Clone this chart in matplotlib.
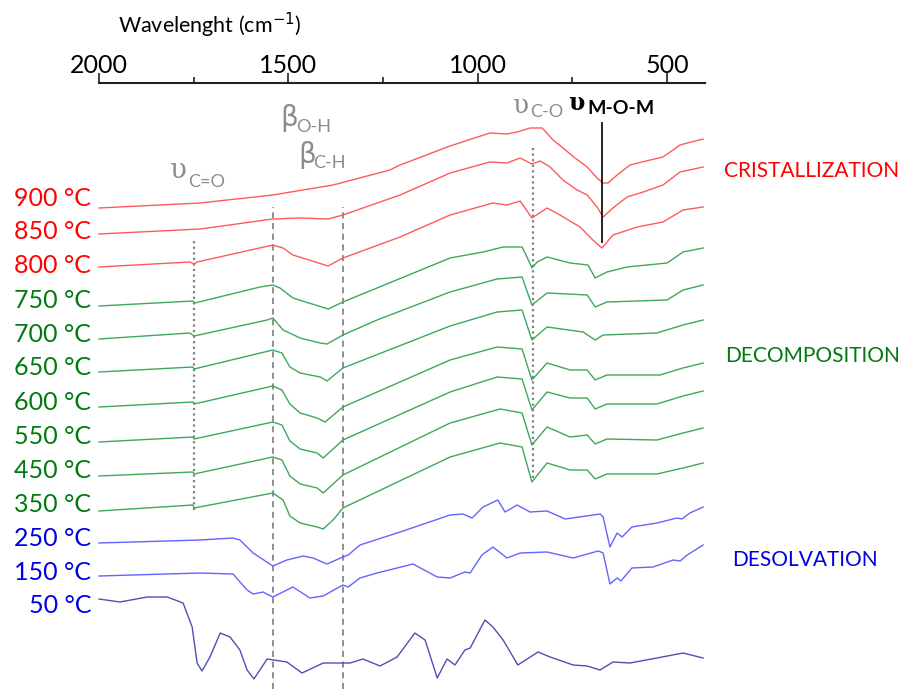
import matplotlib.pyplot as plt

# --- style ---
plt.rcParams['font.family'] = ['Lato', 'DejaVu Sans']

RED_LINE, RED_TXT = "#FF5A5A", "#FF0000"
GREEN_LINE, GREEN_TXT = "#3FA85A", "#007A10"
BLUE_LINE, BLUE_TXT = "#6464FF", "#0000E6"
BLUE_DARK = "#5050B4"
GRAY = "#8C8C8C"

# Spectra: (wavenumber cm-1, stacked transmittance a.u.)
s900 = [(2000, 481), (1733, 486), (1541, 494), (1382, 504), (1232, 519), (1205, 524),
        (1073, 543), (968, 556), (923, 555), (896, 557), (862, 561), (830, 561),
        (801, 549), (775, 541), (743, 531), (711, 522), (685, 511), (669, 506),
        (656, 506), (632, 514), (598, 524), (545, 529), (511, 532), (492, 537),
        (466, 544), (447, 546), (405, 550)]
s850 = [(2000, 455), (1733, 460), (1541, 470), (1470, 471), (1395, 470), (1356, 474),
        (1205, 494), (1073, 516), (968, 527), (923, 526), (888, 531), (857, 525),
        (835, 528), (809, 522), (775, 509), (738, 499), (711, 494), (685, 482),
        (669, 472), (643, 481), (606, 492), (563, 497), (511, 504), (466, 517), (405, 522)]
s800 = [(2000, 422), (1760, 427), (1749, 425), (1741, 427), (1541, 444), (1514, 441),
        (1488, 434), (1395, 423), (1356, 431), (1205, 452), (1073, 474), (960, 486),
        (923, 484), (888, 488), (857, 471), (817, 481), (783, 474), (730, 462),
        (696, 449), (672, 441), (643, 454), (579, 462), (511, 467), (458, 479), (405, 482)]
s750 = [(2000, 383), (1752, 388), (1747, 386), (1575, 402), (1541, 404), (1522, 401),
        (1488, 391), (1395, 380), (1356, 387), (1073, 431), (986, 437), (933, 442),
        (883, 442), (870, 432), (857, 421), (843, 427), (817, 432), (756, 426),
        (709, 424), (690, 411), (659, 417), (606, 422), (500, 426), (458, 437), (405, 441)]
s700 = [(2000, 350), (1760, 356), (1749, 353), (1556, 369), (1541, 371), (1514, 359),
        (1469, 351), (1416, 346), (1398, 345), (1356, 354), (1266, 369), (1073, 397),
        (949, 410), (883, 412), (857, 384), (817, 396), (711, 394), (690, 382),
        (659, 387), (500, 389), (458, 399), (405, 404)]
s650 = [(2000, 317), (1752, 322), (1749, 320), (1541, 339), (1517, 336), (1496, 322),
        (1469, 316), (1416, 312), (1398, 308), (1356, 321), (1073, 363), (949, 377),
        (883, 379), (857, 349), (817, 362), (722, 357), (690, 349), (669, 354),
        (527, 356), (458, 364), (405, 369)]
s600 = [(2000, 282), (1752, 287), (1749, 285), (1541, 303), (1517, 299), (1496, 285),
        (1469, 276), (1424, 271), (1403, 267), (1356, 282), (1073, 329), (949, 342),
        (883, 340), (857, 309), (817, 326), (756, 319), (711, 319), (690, 309),
        (659, 314), (519, 314), (458, 321), (405, 326)]
s550 = [(2000, 247), (1752, 252), (1749, 250), (1541, 267), (1517, 264), (1496, 248),
        (1469, 240), (1424, 236), (1408, 231), (1356, 249), (1073, 297), (949, 312),
        (883, 310), (857, 279), (817, 297), (756, 291), (711, 291), (690, 280),
        (659, 285), (527, 285), (458, 293), (405, 298)]
s450 = [(2000, 213), (1752, 217), (1749, 215), (1541, 232), (1517, 229), (1496, 213),
        (1469, 205), (1424, 201), (1408, 196), (1356, 214), (1073, 266), (941, 280),
        (883, 276), (857, 244), (817, 262), (756, 252), (711, 254), (690, 245),
        (659, 250), (527, 249), (458, 256), (405, 261)]
s350 = [(2000, 178), (1752, 184), (1749, 181), (1541, 196), (1514, 189), (1496, 173),
        (1469, 166), (1424, 162), (1408, 160), (1382, 169), (1356, 181), (1073, 232),
        (941, 246), (883, 242), (857, 207), (817, 226), (756, 219), (711, 219),
        (690, 210), (659, 215), (527, 215), (458, 221), (405, 226)]
s250 = [(2000, 146), (1733, 149), (1646, 151), (1628, 149), (1593, 136), (1541, 123),
        (1504, 129), (1461, 133), (1435, 131), (1398, 125), (1356, 132), (1342, 134),
        (1311, 144), (1205, 157), (1073, 174), (1039, 175), (1015, 171), (986, 182),
        (947, 189), (928, 177), (896, 184), (862, 177), (817, 178), (769, 170),
        (677, 175), (669, 172), (651, 142), (632, 156), (619, 152), (593, 162),
        (527, 166), (474, 171), (461, 170), (440, 176), (405, 182)]
s150 = [(2000, 113), (1733, 116), (1646, 115), (1609, 99), (1593, 95), (1567, 97),
        (1541, 92), (1488, 102), (1443, 91), (1408, 93), (1356, 104), (1342, 102),
        (1311, 111), (1266, 116), (1213, 121), (1171, 125), (1107, 112), (1073, 111),
        (1034, 117), (1020, 116), (989, 134), (960, 142), (923, 131), (888, 136),
        (817, 137), (748, 131), (682, 138), (669, 136), (651, 105), (632, 111),
        (622, 108), (593, 121), (537, 122), (484, 129), (466, 128), (447, 134), (405, 144)]
s50 = [(2000, 90), (1945, 87), (1873, 92), (1820, 92), (1778, 86), (1754, 62),
       (1741, 26), (1728, 18), (1707, 32), (1680, 56), (1654, 52), (1628, 39),
       (1609, 19), (1591, 10), (1556, 30), (1504, 27), (1464, 16), (1408, 26),
       (1337, 26), (1303, 30), (1258, 23), (1213, 32), (1166, 56), (1139, 49),
       (1107, 11), (1081, 30), (1060, 24), (1034, 39), (1020, 41), (981, 69),
       (960, 62), (933, 49), (894, 24), (841, 37), (809, 32), (748, 24), (711, 23),
       (677, 19), (643, 27), (598, 26), (527, 31), (458, 36), (405, 31)]

temps = ["900 °C", "850 °C", "800 °C", "750 °C", "700 °C", "650 °C", "600 °C",
         "550 °C", "450 °C", "350 °C", "250 °C", "150 °C", "50 °C"]
spectra = [s900, s850, s800, s750, s700, s650, s600, s550, s450, s350, s250, s150, s50]
phase = ["c", "c", "c", "d", "d", "d", "d", "d", "d", "d", "s", "s", "s"]
label_y = [483, 450, 416, 381, 347, 314, 279, 245, 211, 177, 143, 109, 76]

# band markers: (wavenumber, y from, y to)
dotted_CO3 = (1750, 448, 179)
dashed_OH = (1541, 482, 0)
dashed_CH = (1356, 482, 0)
dotted_CO = (853, 541, 211)
line_MOM = (673, 567, 446)

line_col = {"c": RED_LINE, "d": GREEN_LINE, "s": BLUE_LINE}
txt_col = {"c": RED_TXT, "d": GREEN_TXT, "s": BLUE_TXT}

W, H = 903, 689
fig = plt.figure(figsize=(W / 100, H / 100), dpi=100)
ax = fig.add_axes([99 / W, 0, 606 / W, 606 / H])

for name, s, ph, ly in zip(temps, spectra, phase, label_y):
    xs = [p[0] for p in s]
    ys = [p[1] for p in s]
    col = BLUE_DARK if name == "50 °C" else line_col[ph]
    ax.plot(xs, ys, color=col, lw=1.0, clip_on=False, zorder=3,
            solid_joinstyle='round')
    ax.text(2021, ly, name, color=txt_col[ph], fontsize=18,
            ha='right', va='baseline')

ax.vlines(dotted_CO3[0], dotted_CO3[2], dotted_CO3[1], colors="#808080",
          linestyles=(0, (1, 1.5)), lw=1.6, zorder=2)
ax.vlines(dotted_CO[0], dotted_CO[2], dotted_CO[1], colors="#808080",
          linestyles=(0, (1, 1.5)), lw=1.6, zorder=2)
for d in (dashed_OH, dashed_CH):
    ax.vlines(d[0], d[2], d[1], colors="#707070", linestyles=(0, (4, 3)),
              lw=1.1, zorder=2)
ax.vlines(line_MOM[0], line_MOM[2], line_MOM[1], colors="black", lw=1.2, zorder=4)

ax.set_xlim(2000, 400)
ax.set_ylim(0, 606)
ax.xaxis.tick_top()
ax.set_xticks([2000, 1500, 1000, 500])
ax.set_xticks([1750, 1250, 750], minor=True)
ax.tick_params(axis='x', which='major', direction='out', length=7, width=1.2,
               labelsize=18, pad=-2.5, color="#222222")
ax.tick_params(axis='x', which='minor', direction='out', length=4.5, width=1.2,
               color="#222222")
ax.set_yticks([])
for side in ("left", "right", "bottom"):
    ax.spines[side].set_visible(False)
ax.spines["top"].set_linewidth(1.5)
ax.spines["top"].set_color("#222222")
ax.patch.set_alpha(0)

fig.text(118 / W, 1 - 33 / H, "Wavelenght (cm$^{-1}$)", fontsize=15.5, va='baseline')


def fx(px, py):
    return px / W, 1 - py / H


# band annotations
fig.text(*fx(170, 178), "υ", family="DejaVu Serif", fontsize=20, color=GRAY, va='baseline')
fig.text(*fx(188, 187), "C=O", fontsize=13, color=GRAY, va='baseline')
fig.text(*fx(280, 126), "β", family="DejaVu Sans", fontsize=20, color=GRAY, va='baseline')
fig.text(*fx(296, 132), "O-H", fontsize=13, color=GRAY, va='baseline')
fig.text(*fx(298, 163), "β", family="DejaVu Sans", fontsize=20, color=GRAY, va='baseline')
fig.text(*fx(313, 168), "C-H", fontsize=13, color=GRAY, va='baseline')
fig.text(*fx(513, 113), "υ", family="DejaVu Serif", fontsize=19, color=GRAY, va='baseline')
fig.text(*fx(530, 117), "C-O", fontsize=13, color=GRAY, va='baseline')
fig.text(*fx(568, 110), "υ", family="DejaVu Serif", fontsize=17, fontweight='bold',
         color="black", va='baseline')
fig.text(*fx(587, 114), "M-O-M", fontsize=14, fontweight='bold', color="black",
         va='baseline')

# phase labels
fig.text(*fx(724, 177), "CRISTALLIZATION", fontsize=15, color=RED_TXT, va='baseline')
fig.text(*fx(725, 362), "DECOMPOSITION", fontsize=15, color=GREEN_TXT, va='baseline')
fig.text(*fx(732, 566), "DESOLVATION", fontsize=15, color=BLUE_TXT, va='baseline')

fig.savefig("out.png", dpi=100)
